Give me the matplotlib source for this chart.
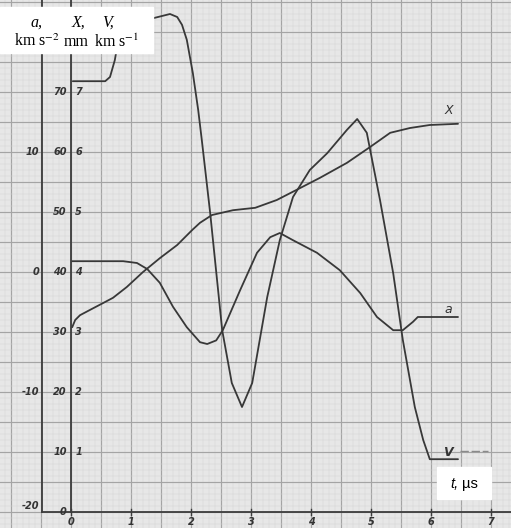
import numpy as np
import matplotlib.pyplot as plt

plt.rcParams['mathtext.fontset'] = 'stix'

# Datos (t en microsegundos)
t_X = [0.02, 0.07, 0.15, 0.32, 0.53, 0.70, 0.93, 1.20, 1.48, 1.77, 2.02, 2.15, 2.35,
       2.70, 3.07, 3.43, 3.82, 4.15, 4.60, 4.98, 5.32, 5.65, 5.98, 6.45]
X_mm = [30.8, 32.0, 32.8, 33.7, 34.8, 35.7, 37.5, 40.0, 42.3, 44.5, 47.0, 48.2, 49.5,
        50.3, 50.7, 52.0, 54.0, 55.7, 58.2, 60.8, 63.2, 64.0, 64.5, 64.7]

t_a = [0.02, 0.87, 1.10, 1.27, 1.48, 1.70, 1.93, 2.15, 2.27, 2.42, 2.53, 2.82,
       3.10, 3.32, 3.48, 3.70, 4.10, 4.48, 4.82, 5.10, 5.37, 5.53, 5.70, 5.78, 6.45]
a_kms2 = [0.9, 0.9, 0.75, 0.25, -0.9, -2.9, -4.6, -5.85, -6.0, -5.7, -4.85, -1.5,
          1.6, 2.9, 3.25, 2.65, 1.6, 0.15, -1.75, -3.75, -4.85, -4.85, -4.15, -3.75, -3.75]

t_V = [0.03, 0.57, 0.65, 0.73, 0.78, 0.90, 1.15, 1.37, 1.65, 1.77, 1.85, 1.93, 2.03,
       2.12, 2.18, 2.32, 2.52, 2.68, 2.85, 3.02, 3.27, 3.48, 3.70, 3.98, 4.27, 4.60,
       4.77, 4.93, 5.15, 5.37, 5.53, 5.73, 5.87, 5.98, 6.45]
V_kms = [7.18, 7.18, 7.25, 7.53, 7.82, 8.0, 8.2, 8.23, 8.3, 8.25, 8.12, 7.87, 7.32,
         6.7, 6.2, 4.98, 3.03, 2.15, 1.75, 2.15, 3.58, 4.53, 5.25, 5.7, 5.98, 6.37,
         6.55, 6.32, 5.2, 3.98, 2.87, 1.75, 1.2, 0.88, 0.88]
t_V_tail = [6.48, 6.95]
V_tail = [1.02, 1.02]

t_ticks = [0, 1, 2, 3, 4, 5, 6, 7]
X_ticks = [0, 10, 20, 30, 40, 50, 60, 70]
V_ticks = ['', '1', '2', '3', '4', '5', '6', '7']
a_ticks = [-20, -10, 0, 10]

# escalas: a = (X - 40) / 2, V = X / 10
def a_to_X(a):
    return np.array(a) * 2 + 40

def V_to_X(v):
    return np.array(v) * 10

fig = plt.figure(figsize=(5.11, 5.28), dpi=100)
ax = fig.add_axes([0, 0, 1, 1])
ax.set_facecolor('#e7e7e7')
ax.set_xlim(-71 / 60, 440 / 60)
ax.set_ylim(-16 / 6, 512 / 6)

# papel milimetrado
ax.set_xticks(np.arange(-1.0, 7.5, 0.5))
ax.set_xticks(np.arange(-1.1, 7.4, 0.1), minor=True)
ax.set_yticks(np.arange(0, 90, 5))
ax.set_yticks(np.arange(-2, 86, 1), minor=True)
ax.grid(True, which='major', color='#a4a4a4', lw=0.85)
ax.grid(True, which='minor', color='#d3d3d3', lw=0.35)
ax.tick_params(which='both', length=0, labelbottom=False, labelleft=False)
for s in ax.spines.values():
    s.set_visible(False)
ax.set_axisbelow(True)

# ejes dibujados a mano
x_a_axis = -29 / 60
ax.plot([0, 0], [0, 90], color='#3c3c3c', lw=1.3)
ax.plot([x_a_axis, x_a_axis], [0, 90], color='#3c3c3c', lw=1.3)
ax.plot([x_a_axis, 8], [0, 0], color='#3c3c3c', lw=1.3)

hand = dict(fontsize=7, style='italic', color='#333333', fontweight='bold')
for X, v in zip(X_ticks, V_ticks):
    ax.text(-0.07, X, str(X), ha='right', va='center', **hand)
    ax.text(0.07, X, v, ha='left', va='center', **hand)
for a in a_ticks:
    ax.text(x_a_axis - 0.05, a_to_X(a) + (1.0 if a == -20 else 0), str(a),
            ha='right', va='center', **hand)
for t in t_ticks:
    ax.text(t, -1.6, str(t), ha='center', va='center', **hand)
    ax.plot([t, t], [-0.5, 0.5], color='#3c3c3c', lw=1)

# curvas
line = dict(color='#383838', lw=1.3, solid_capstyle='round', solid_joinstyle='round')
ax.plot(t_X, X_mm, **line)
ax.plot(t_a, a_to_X(a_kms2), **line)
ax.plot(t_V, V_to_X(V_kms), **line)
ax.plot(t_V_tail, V_to_X(V_tail), color='#8a8a8a', lw=1.0, ls=(0, (6, 2)))

ax.text(6.23, 66.3, 'X', fontsize=9, style='italic', color='#333333')
ax.text(6.22, 33.2, 'a', fontsize=9, style='italic', color='#333333')
ax.text(6.2, 9.3, 'V', fontsize=9, style='italic', color='#333333', fontweight='bold')

# cuadro de unidades
fig.patches.append(plt.Rectangle((0, 1 - 53 / 528), 153 / 511, 46 / 528,
                                 transform=fig.transFigure, color='white', zorder=5))
serif = dict(family='Liberation Serif', fontsize=11.5, zorder=6, ha='center', va='center')
for x, s in [(37, 'a,'), (78, 'X,'), (108, 'V,')]:
    fig.text(x / 511, 1 - 23 / 528, s, style='italic', **serif)
fig.text(37 / 511, 1 - 42 / 528, 'km s$^{-2}$', **serif)
fig.text(76 / 511, 1 - 42 / 528, 'mm', **serif)
fig.text(117 / 511, 1 - 42 / 528, 'km s$^{-1}$', **serif)

fig.patches.append(plt.Rectangle((437 / 511, 1 - 499 / 528), 54 / 511, 32 / 528,
                                 transform=fig.transFigure, color='white', zorder=5))
fig.text(450 / 511, 1 - 484 / 528, 't,', family='Liberation Sans', style='italic',
         fontsize=10.5, ha='left', va='center', zorder=6)
fig.text(462 / 511, 1 - 484 / 528, 'µs', family='Liberation Sans',
         fontsize=10.5, ha='left', va='center', zorder=6)

fig.savefig('out.png', dpi=100)
